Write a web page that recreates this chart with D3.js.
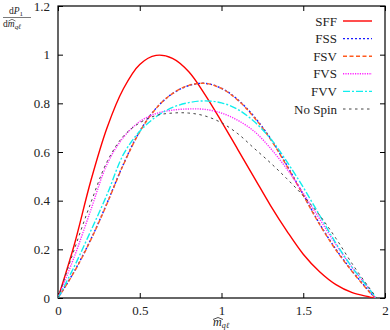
<!DOCTYPE html>
<html><head><meta charset="utf-8">
<script src="https://cdn.jsdelivr.net/npm/d3@7"></script>
<style>body{margin:0;background:#fff}svg{display:block}</style>
</head><body><svg id="c" width="390" height="330"></svg>
<script>
const xs      = [0,0.1,0.2,0.3,0.4,0.5,0.6,0.7,0.8,0.9,1.0,1.1,1.2,1.3,1.4,1.5,1.6,1.7,1.8,1.9];
const sff     = [0,0.22,0.48,0.7,0.86,0.96,0.997,0.985,0.93,0.835,0.725,0.61,0.495,0.38,0.275,0.18,0.108,0.055,0.022,0.005];
const fss     = [0,0.11,0.24,0.39,0.55,0.685,0.78,0.84,0.873,0.882,0.862,0.815,0.745,0.655,0.545,0.425,0.305,0.2,0.11,0.03];
const fsv     = [0,0.108,0.238,0.388,0.548,0.683,0.779,0.84,0.874,0.882,0.861,0.813,0.742,0.652,0.542,0.422,0.302,0.197,0.108,0.028];
const fvs     = [0,0.17,0.36,0.55,0.66,0.725,0.758,0.772,0.777,0.775,0.76,0.73,0.685,0.615,0.53,0.43,0.325,0.22,0.125,0.04];
const fvv     = [0,0.13,0.275,0.425,0.59,0.685,0.745,0.783,0.803,0.81,0.802,0.775,0.725,0.655,0.56,0.455,0.34,0.225,0.125,0.04];
const nospin  = [0,0.2,0.39,0.56,0.665,0.72,0.75,0.76,0.76,0.748,0.72,0.675,0.615,0.555,0.49,0.42,0.34,0.245,0.14,0.045];
const endX    = {SFF:1.93, FSS:1.94, FSV:1.94, FVS:1.94, FVV:1.945, "No Spin":1.95};
const xTicks  = [0,0.5,1,1.5,2];
const yTicks  = [0,0.2,0.4,0.6,0.8,1,1.2];
const seriesNames = ["SFF","FSS","FSV","FVS","FVV","No Spin"];
const seriesVals  = [sff,fss,fsv,fvs,fvv,nospin];
const styles = {
  "SFF":{c:"#ff0000",w:1.4,d:null},
  "FSS":{c:"#1a1aff",w:1.4,d:"2,2"},
  "FSV":{c:"#ff5a1e",w:1.4,d:"4,2.5"},
  "FVS":{c:"#ff22ff",w:1.4,d:"1.2,1.2"},
  "FVV":{c:"#11eeee",w:1.4,d:"7,2,2,2"},
  "No Spin":{c:"#444444",w:1,d:"2.5,3.5"}
};
const svg = d3.select("#c");
const L=58,R=385,T=6,B=298;
const x = d3.scaleLinear().domain([0,2]).range([L,R]);
const y = d3.scaleLinear().domain([0,1.2]).range([B,T]);
const font = "'Liberation Serif', 'DejaVu Serif', serif";

svg.append("rect").attr("x",L).attr("y",T).attr("width",R-L).attr("height",B-T)
  .attr("fill","none").attr("stroke","#000").attr("stroke-width",1.2);

const fmt = d => d===0?"0":String(d);
const gx = svg.append("g").attr("transform",`translate(0,${B})`)
  .call(d3.axisBottom(x).tickValues(xTicks).tickFormat(fmt).tickSizeInner(-5).tickSizeOuter(0).tickPadding(8));
const gxt = svg.append("g").attr("transform",`translate(0,${T})`)
  .call(d3.axisTop(x).tickValues(xTicks).tickFormat("").tickSizeInner(-5).tickSizeOuter(0));
const gy = svg.append("g").attr("transform",`translate(${L},0)`)
  .call(d3.axisLeft(y).tickValues(yTicks).tickFormat(fmt).tickSizeInner(-5).tickSizeOuter(0).tickPadding(8));
const gyr = svg.append("g").attr("transform",`translate(${R},0)`)
  .call(d3.axisRight(y).tickValues(yTicks).tickFormat("").tickSizeInner(-5).tickSizeOuter(0));
[gx,gxt,gy,gyr].forEach(g=>{
  g.select(".domain").remove();
  g.selectAll("line").attr("stroke","#000").attr("stroke-width",1);
  g.selectAll("text").attr("font-family",font).attr("font-size",13).attr("fill","#222");
});

const line = d3.line().x(d=>x(d[0])).y(d=>y(d[1])).curve(d3.curveCatmullRom.alpha(0.5));
svg.append("clipPath").attr("id","clp").append("rect").attr("x",L).attr("y",T).attr("width",R-L).attr("height",B-T);
seriesNames.forEach((n,i)=>{
  const pts = xs.map((v,j)=>[v,seriesVals[i][j]]);
  pts.push([endX[n],0]);
  const s = styles[n];
  svg.append("path").datum(pts).attr("d",line).attr("fill","none")
    .attr("stroke",s.c).attr("stroke-width",s.w).attr("stroke-dasharray",s.d).attr("clip-path","url(#clp)");
});

const leg = svg.append("g");
seriesNames.forEach((n,i)=>{
  const yy = 21 + i*17.6;
  leg.append("text").attr("x",337).attr("y",yy+4.5).attr("text-anchor","end")
    .attr("font-family",font).attr("font-size",13).attr("fill","#222").text(n);
  const s = styles[n];
  leg.append("line").attr("x1",343).attr("x2",372).attr("y1",yy).attr("y2",yy)
    .attr("stroke",s.c).attr("stroke-width",s.w).attr("stroke-dasharray",s.d);
});

const xl = svg.append("g").attr("font-family",font).attr("fill","#222");
const xt = xl.append("text").attr("x",213).attr("y",326).attr("font-size",12);
xt.append("tspan").attr("font-style","italic").text("m");
xt.append("tspan").attr("font-size",8).attr("font-style","italic").attr("dy",1.5).text("qℓ");
xl.append("path").attr("d","M213,319.5 L218,317.5 L223,319.5").attr("fill","none").attr("stroke","#222").attr("stroke-width",0.8);

const yl = svg.append("g").attr("font-family",font).attr("fill","#222");
const nt = yl.append("text").attr("x",9).attr("y",14).attr("font-size",9.5);
nt.append("tspan").text("d");
nt.append("tspan").attr("font-style","italic").text("P");
nt.append("tspan").attr("font-size",7).attr("dy",2).text("1");
yl.append("line").attr("x1",3).attr("x2",31).attr("y1",17.5).attr("y2",17.5).attr("stroke","#222").attr("stroke-width",0.6);
const dt = yl.append("text").attr("x",3).attr("y",27).attr("font-size",9.5);
dt.append("tspan").text("d");
dt.append("tspan").attr("font-style","italic").text("m");
dt.append("tspan").attr("font-size",7).attr("font-style","italic").attr("dy",2).text("qℓ");
yl.append("path").attr("d","M8.5,21 L12,19.3 L15.5,21").attr("fill","none").attr("stroke","#222").attr("stroke-width",0.6);
</script></body></html>
